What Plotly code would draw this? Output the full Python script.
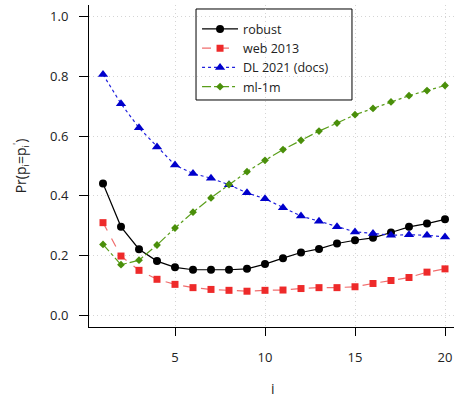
import plotly.graph_objects as go

idx = list(range(1, 21))
robust = [0.441, 0.296, 0.221, 0.181, 0.160, 0.152, 0.152, 0.152, 0.155, 0.171,
          0.191, 0.210, 0.222, 0.240, 0.251, 0.259, 0.277, 0.296, 0.307, 0.321]
web2013 = [0.310, 0.198, 0.150, 0.120, 0.103, 0.092, 0.086, 0.083, 0.080, 0.083,
           0.084, 0.089, 0.092, 0.092, 0.095, 0.106, 0.116, 0.126, 0.144, 0.155]
dl2021 = [0.807, 0.709, 0.628, 0.564, 0.503, 0.475, 0.459, 0.437, 0.410, 0.390,
          0.360, 0.332, 0.315, 0.296, 0.279, 0.274, 0.268, 0.269, 0.268, 0.262]
ml1m = [0.237, 0.169, 0.184, 0.235, 0.292, 0.345, 0.393, 0.438, 0.481, 0.519,
        0.555, 0.586, 0.617, 0.644, 0.672, 0.693, 0.715, 0.736, 0.753, 0.770]

xticks = [5, 10, 15, 20]
yticks = [0.0, 0.2, 0.4, 0.6, 0.8, 1.0]
ytick_text = ["0.0", "0.2", "0.4", "0.6", "0.8", "1.0"]

FONT = "Open Sans"

fig = go.Figure()
fig.add_trace(go.Scatter(x=idx, y=robust, name="robust", mode="lines+markers",
                         line=dict(color="black", width=1.2, dash="solid"),
                         marker=dict(symbol="circle", size=8, color="black")))
fig.add_trace(go.Scatter(x=idx, y=web2013, name="web 2013", mode="lines+markers",
                         line=dict(color="rgba(235,60,60,0.75)", width=1.2, dash="dash"),
                         marker=dict(symbol="square", size=7, color="#EE2A2A")))
fig.add_trace(go.Scatter(x=idx, y=dl2021, name="DL 2021 (docs)", mode="lines+markers",
                         line=dict(color="#2020DD", width=1.2, dash="dot"),
                         marker=dict(symbol="triangle-up", size=9, color="#0000CC")))
fig.add_trace(go.Scatter(x=idx, y=ml1m, name="ml-1m", mode="lines+markers",
                         line=dict(color="#5A9E1A", width=1.2, dash="dashdot"),
                         marker=dict(symbol="diamond", size=6, color="#4A8F0A")))

# legend frame (R-style inset box)
fig.add_shape(type="rect", xref="paper", yref="paper",
              x0=0.2932, x1=0.7205, y0=0.705, y1=0.9876,
              line=dict(color="black", width=1), fillcolor="white", layer="below")

# x-axis title
fig.add_annotation(text="i", xref="paper", yref="paper", x=0.505, y=-0.19,
                   xanchor="center", yanchor="middle", showarrow=False,
                   font=dict(family=FONT, size=14, color="#222222"))

fig.update_layout(
    width=454, height=398,
    margin=dict(l=89, r=0, t=5, b=71, autoexpand=False),
    paper_bgcolor="white", plot_bgcolor="white",
    font=dict(family=FONT, size=13, color="#222222"),
    showlegend=True,
    legend=dict(x=0.296, y=0.971, xanchor="left", yanchor="top",
                bgcolor="rgba(0,0,0,0)", borderwidth=0,
                font=dict(family=FONT, size=12.5, color="#222222"),
                tracegroupgap=0, itemwidth=36),
)
fig.update_xaxes(range=[0.222, 20.5], tickvals=xticks, ticks="outside", ticklen=8,
                 tickcolor="black", showline=True, linecolor="black", linewidth=1,
                 showgrid=True, gridcolor="#D5D5D5", griddash="1px,3px", gridwidth=1,
                 zeroline=False, ticklabelstandoff=10, automargin=False)
fig.update_yaxes(range=[-0.04, 1.04], tickvals=yticks, ticktext=ytick_text,
                 ticks="outside", ticklen=9, tickcolor="black",
                 showline=True, linecolor="black", linewidth=1,
                 showgrid=True, gridcolor="#D5D5D5", griddash="1px,3px", gridwidth=1,
                 zeroline=False, ticklabelstandoff=8, automargin=False,
                 title=dict(text="Pr(p<sub>i</sub>=p<sub>i</sub><sup>'</sup>)", standoff=20,
                            font=dict(size=14)))

fig.write_html("out.html", config={"displayModeBar": False},
               post_script="document.body.style.margin='0';document.body.style.overflow='hidden';")
